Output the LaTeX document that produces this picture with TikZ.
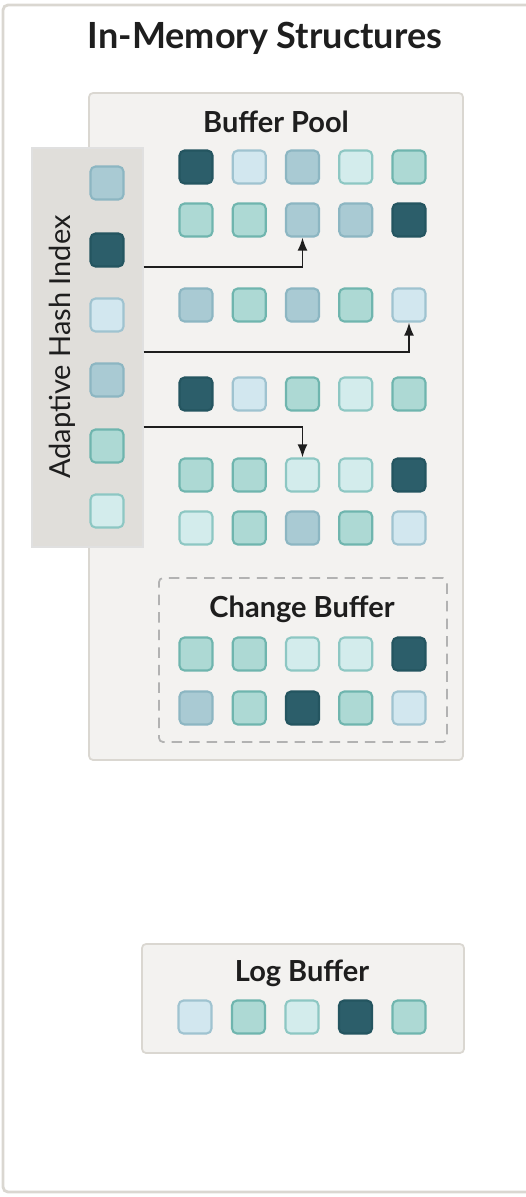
\documentclass[tikz,border=0pt]{standalone}
\usepackage{fontspec}
\setmainfont{Lato}
\usepackage{tikz}
\usetikzlibrary{arrows.meta}
\usetikzlibrary{positioning}
\usetikzlibrary{fit}

\definecolor{fD}{HTML}{2C5E6A}\definecolor{bD}{HTML}{245560}
\definecolor{fL}{HTML}{D2E7EF}\definecolor{bL}{HTML}{9FC3D0}
\definecolor{fG}{HTML}{A9CAD3}\definecolor{bG}{HTML}{8CB6C2}
\definecolor{fP}{HTML}{D3ECEC}\definecolor{bP}{HTML}{8DC7C3}
\definecolor{fT}{HTML}{ADD9D4}\definecolor{bT}{HTML}{6FB5AE}
\definecolor{panel}{HTML}{F3F2F0}
\definecolor{panelline}{HTML}{DAD7D1}
\definecolor{hashfill}{HTML}{E0DEDA}
\definecolor{ink}{HTML}{1E1E1E}

\tikzset{
  cell/.style={draw=b#1, fill=f#1, line width=1.2pt, rounded corners=0.1cm,
               minimum size=0.66cm, inner sep=0pt},
  panelbox/.style={draw=panelline, fill=panel, line width=1pt, rounded corners=0.08cm, inner sep=0pt},
  heading/.style={text=ink, font=\bfseries\fontsize{16.5}{18}\selectfont},
  link/.style={draw=ink, line width=1.1pt, -{Latex[length=2.6mm,width=2mm]}}
}

\begin{document}
\begin{tikzpicture}[x=0.02cm, y=-0.02cm]
      \useasboundingbox (0,0) rectangle (526,1197);
      \clip (0,0) rectangle (526,1197);
      % outer frame
      \draw[draw=panelline, line width=1.6pt, rounded corners=0.1cm] (3,5) rectangle (560,1192);
      \node[text=ink, font=\bfseries\fontsize{20.5}{22}\selectfont] (title) at (265,38) {In-Memory Structures};

      % buffer pool
      \node[panelbox, fit={(89,93) (463,760)}] (pool) {};
      \node[heading] (pooltitle) at (276,122) {Buffer Pool};
      \node[draw=black!30, dashed, dash pattern=on 6pt off 4pt, line width=1pt, rounded corners=0.08cm,
            inner sep=0pt, fit={(159,578) (447,742)}] (change) {};
      \node[heading] (changetitle) at (302,609) {Change Buffer};

      % adaptive hash index
      \node[draw=black!12, fill=hashfill, line width=0.8pt, inner sep=0pt, fit={(32,148) (143,547)}] (hash) {};
      \node[rotate=90, text=ink, font=\fontsize{16.5}{18}\selectfont] (hashtitle) at (62,347) {Adaptive Hash Index};
      \foreach \k/\y [count=\i] in {G/183, D/250, L/315, G/380, T/446, P/511}
        \node[cell=\k] (ahi_\i) at (107,\y) {};

      % pages in the pool
      \foreach \y/\a/\b/\c/\d/\e [count=\r] in {167/D/L/G/P/T, 220/T/T/G/G/D, 305/G/T/G/T/L,
                                             394/D/L/T/P/T, 475/T/T/P/P/D, 528/P/T/G/T/L}
        \foreach \k [count=\i] in {\a,\b,\c,\d,\e}
          \node[cell=\k] (bp_\r_\i) at ({196+53.25*(\i-1)},\y) {};
      \foreach \y/\a/\b/\c/\d/\e [count=\r] in {654/T/T/P/P/D, 708/G/T/D/T/L}
        \foreach \k [count=\i] in {\a,\b,\c,\d,\e}
          \node[cell=\k] (cb_\r_\i) at ({196+53.25*(\i-1)},\y) {};

      % hash pointers
      \coordinate (a_1) at (hash.east |- 0,267);
      \coordinate (a_2) at (hash.east |- 0,352);
      \coordinate (a_3) at (hash.east |- 0,427);
      \draw[link] (a_1) -| (bp_2_3.south);
      \draw[link] (a_2) -| (bp_3_5.south);
      \draw[link] (a_3) -| (bp_5_3.north);

      % log buffer
      \node[panelbox, fit={(142,944) (464,1053)}] (log) {};
      \node[heading] (logtitle) at (302,973) {Log Buffer};
      \foreach \k [count=\i] in {L,T,P,D,T}
        \node[cell=\k] (log_\i) at ({195+53.5*(\i-1)},1017) {};
    \end{tikzpicture}
\end{document}
